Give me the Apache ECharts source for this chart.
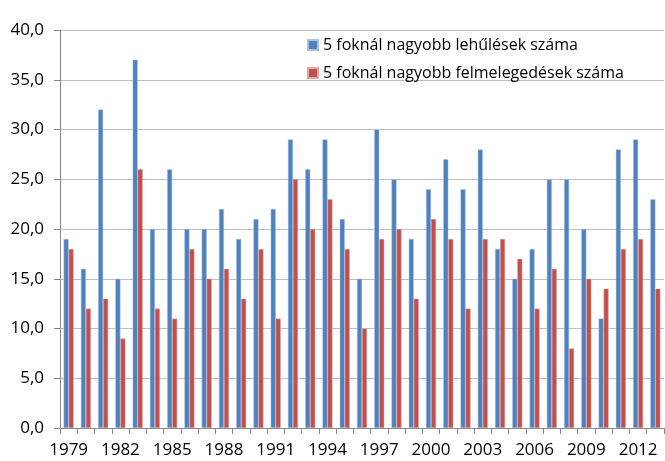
<!DOCTYPE html>
<html>
<head>
<meta charset="utf-8">
<script src="https://cdn.jsdelivr.net/npm/echarts@6/dist/echarts.min.js"></script>
<style>
  html, body { margin: 0; padding: 0; background: #fff; }
  #chart { width: 665px; height: 461px; }
</style>
</head>
<body>
<div id="chart"></div>
<script>
// adatok
const years = []
for (let y = 1979; y <= 2013; y++) years.push(String(y))

const cooling = [19, 16, 32, 15, 37, 20, 26, 20, 20, 22, 19, 21, 22, 29, 26, 29, 21, 15,
  30, 25, 19, 24, 27, 24, 28, 18, 15, 18, 25, 25, 20, 11, 28, 29, 23]
const warming = [18, 12, 13, 9, 26, 12, 11, 18, 15, 16, 13, 18, 11, 25, 20, 23, 18, 10,
  19, 20, 13, 21, 19, 12, 19, 19, 17, 12, 16, 8, 15, 14, 18, 19, 14]

const seriesNames = ['5 foknál nagyobb lehűlések száma', '5 foknál nagyobb felmelegedések száma']

const chart = echarts.init(document.getElementById('chart'))
const font = 'Open Sans, Liberation Sans, sans-serif'

chart.setOption({
  animation: false,
  textStyle: { fontFamily: font },
  color: ['#4F81BD', '#C0504D'],
  legend: {
    orient: 'vertical',
    left: 302,
    top: 31,
    itemWidth: 10,
    itemHeight: 10,
    itemGap: 6,
    padding: [3, 5],
    icon: 'rect',
    textStyle: { fontSize: 16, lineHeight: 22, color: '#000', fontFamily: font },
    data: seriesNames
  },
  grid: {
    left: 60,
    right: 1,
    top: 30,
    bottom: 33
  },
  xAxis: {
    type: 'category',
    data: years,
    axisLine: { lineStyle: { color: '#868686' } },
    axisTick: { show: true, interval: 0, length: 6, lineStyle: { color: '#868686' } },
    axisLabel: { interval: 2, color: '#000', fontSize: 17, margin: 14, fontFamily: font }
  },
  yAxis: {
    type: 'value',
    min: 0,
    max: 40,
    interval: 5,
    axisLine: { show: true, lineStyle: { color: '#868686' } },
    axisTick: { show: true, length: 6, lineStyle: { color: '#868686' } },
    axisLabel: {
      color: '#000',
      fontSize: 17,
      margin: 16,
      fontFamily: font,
      formatter: v => v.toFixed(1).replace('.', ',')
    },
    splitLine: { lineStyle: { color: '#BEBEBE' } }
  },
  series: [
    {
      name: seriesNames[0],
      type: 'bar',
      data: cooling,
      barWidth: 5,
      barGap: '0%',
      itemStyle: { borderColor: '#A7C0E0', borderWidth: 0.5 }
    },
    {
      name: seriesNames[1],
      type: 'bar',
      data: warming,
      barWidth: 5,
      barGap: '0%',
      itemStyle: { borderColor: '#E0A9A8', borderWidth: 0.5 }
    }
  ]
})
</script>
</body>
</html>
